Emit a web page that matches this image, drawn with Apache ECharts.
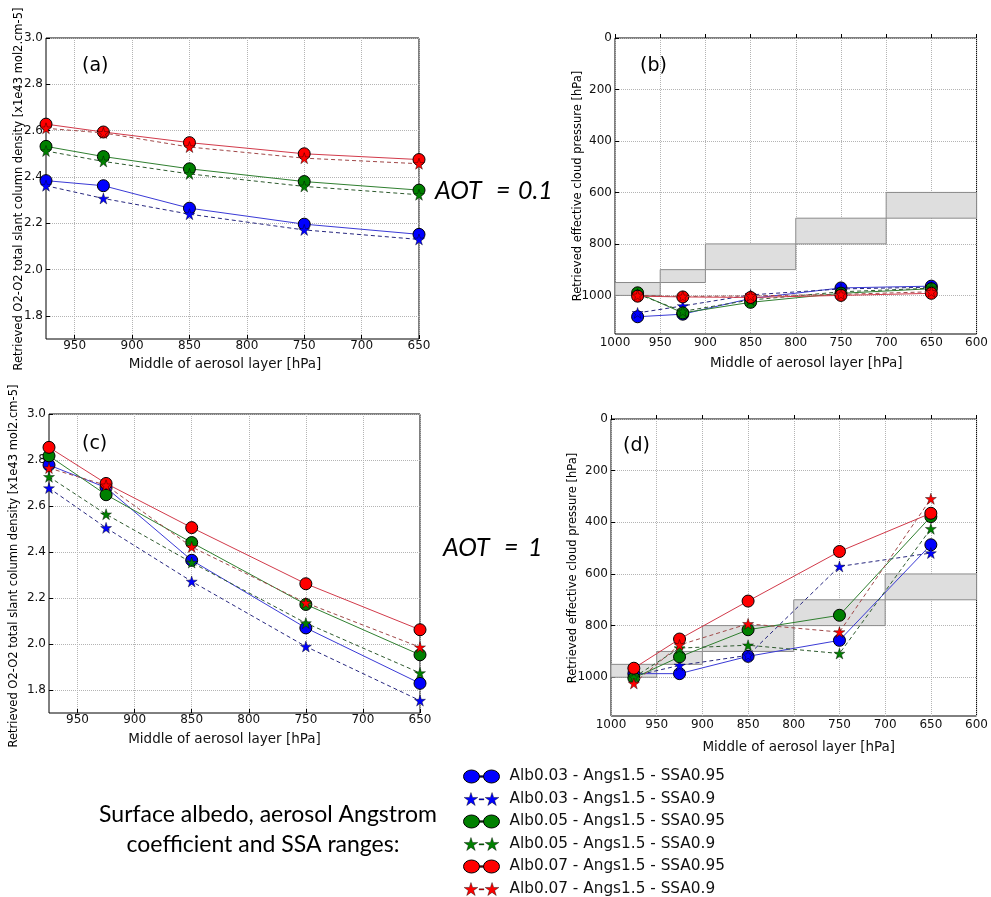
<!DOCTYPE html>
<html>
<head>
<meta charset="utf-8">
<script src="https://cdn.jsdelivr.net/npm/echarts@6/dist/echarts.min.js"></script>
<style>
  html, body { margin: 0; padding: 0; background: #fff; }
  #chart { width: 991px; height: 897px; }
</style>
</head>
<body>
<div id="chart"></div>
<script>
// Middle of each aerosol layer [hPa] and the layer bounds
const layerMid = [975, 925, 850, 750, 650];
const layerBottom = [1000, 950, 900, 800, 700];
const layerTop = [950, 900, 800, 700, 600];

// Tick labels
const scdTicks = [1.8, 2.0, 2.2, 2.4, 2.6, 2.8, 3.0];
const ecpTicks = [0, 200, 400, 600, 800, 1000];
const midTicks = [950, 900, 850, 800, 750, 700, 650];
const fullTicks = [1000, 950, 900, 850, 800, 750, 700, 650, 600];

// Legend entries
const seriesNames = [
  'Alb0.03 - Angs1.5 - SSA0.95',
  'Alb0.03 - Angs1.5 - SSA0.9',
  'Alb0.05 - Angs1.5 - SSA0.95',
  'Alb0.05 - Angs1.5 - SSA0.9',
  'Alb0.07 - Angs1.5 - SSA0.95',
  'Alb0.07 - Angs1.5 - SSA0.9'
];

// O2-O2 slant column density [x1e43 mol2.cm-5], AOT = 0.1
const scd01_a03_s95 = [2.384, 2.362, 2.265, 2.196, 2.152];
const scd01_a03_s90 = [2.362, 2.307, 2.239, 2.171, 2.130];
const scd01_a05_s95 = [2.532, 2.488, 2.435, 2.380, 2.343];
const scd01_a05_s90 = [2.512, 2.467, 2.413, 2.359, 2.323];
const scd01_a07_s95 = [2.628, 2.594, 2.548, 2.500, 2.475];
const scd01_a07_s90 = [2.610, 2.590, 2.529, 2.481, 2.457];

// Effective cloud pressure [hPa], AOT = 0.1
const ecp01_a03_s95 = [1083, 1073, 1012, 971, 964];
const ecp01_a03_s90 = [1068, 1041, 998, 975, 968];
const ecp01_a05_s95 = [990, 1068, 1027, 992, 974];
const ecp01_a05_s90 = [995, 1062, 1018, 986, 972];
const ecp01_a07_s95 = [1003, 1006, 1008, 1000, 992];
const ecp01_a07_s90 = [1000, 1004, 1002, 996, 986];

// O2-O2 slant column density [x1e43 mol2.cm-5], AOT = 1
const scd1_a03_s95 = [2.778, 2.680, 2.364, 2.070, 1.829];
const scd1_a03_s90 = [2.678, 2.505, 2.272, 1.989, 1.754];
const scd1_a05_s95 = [2.818, 2.649, 2.441, 2.172, 1.953];
const scd1_a05_s90 = [2.727, 2.564, 2.354, 2.091, 1.874];
const scd1_a07_s95 = [2.855, 2.698, 2.506, 2.262, 2.062];
const scd1_a07_s90 = [2.765, 2.690, 2.422, 2.179, 1.986];

// Effective cloud pressure [hPa], AOT = 1
const ecp1_a03_s95 = [986, 986, 919, 857, 487];
const ecp1_a03_s90 = [995, 954, 915, 571, 519];
const ecp1_a05_s95 = [1003, 921, 816, 760, 378];
const ecp1_a05_s90 = [1000, 887, 876, 908, 425];
const ecp1_a07_s95 = [965, 852, 705, 513, 365];
const ecp1_a07_s90 = [1024, 875, 793, 825, 309];

const panelValues = [
  [scd01_a03_s95, scd01_a03_s90, scd01_a05_s95, scd01_a05_s90, scd01_a07_s95, scd01_a07_s90],
  [ecp01_a03_s95, ecp01_a03_s90, ecp01_a05_s95, ecp01_a05_s90, ecp01_a07_s95, ecp01_a07_s90],
  [scd1_a03_s95, scd1_a03_s90, scd1_a05_s95, scd1_a05_s90, scd1_a07_s95, scd1_a07_s90],
  [ecp1_a03_s95, ecp1_a03_s90, ecp1_a05_s95, ecp1_a05_s90, ecp1_a07_s95, ecp1_a07_s90]
];

const markerColors = ['#0000ff', '#0000ff', '#008000', '#008000', '#ff0000', '#ff0000'];
const solidColors = ['#3a3ad6', '#3a3ad6', '#2f7f2f', '#2f7f2f', '#d23a4a', '#d23a4a'];
const dashColors = ['#27277f', '#27277f', '#2e5a2e', '#2e5a2e', '#a04848', '#a04848'];

function starPath(cx, cy, r) {
  let d = '';
  for (let i = 0; i < 10; i++) {
    const ang = -Math.PI / 2 + i * Math.PI / 5;
    const rr = i % 2 ? r * 0.382 : r;
    d += (i ? 'L' : 'M') + (cx + rr * Math.cos(ang)).toFixed(2) + ',' + (cy + rr * Math.sin(ang)).toFixed(2);
  }
  return d + 'Z';
}
const starSymbol = 'path://' + starPath(10, 10, 10);
const legendCircles = 'path://M0,7a8,6.5 0 1,0 16,0a8,6.5 0 1,0 -16,0Z M16,6.4h4v1.2h-4Z M20,7a8,6.5 0 1,0 16,0a8,6.5 0 1,0 -16,0Z';
const legendStars = 'path://' + starPath(7, 7.5, 7.5) + 'M15.5,6.6h5v1.1h-5Z' + starPath(29, 7.5, 7.5);

const FONT = 'DejaVu Sans';

// Plot rectangles of the four panels
const grids = [
  { left: 46, top: 38, width: 373, height: 301 },
  { left: 615, top: 38, width: 367, height: 296 },
  { left: 49, top: 414, width: 371, height: 299 },
  { left: 611, top: 419, width: 368, height: 297 }
].map(g => Object.assign({
  show: true, borderColor: '#000', borderWidth: 1, backgroundColor: 'transparent',
  containLabel: false
}, g));

const gridLine = { show: true, lineStyle: { color: '#b4b4b4', type: 'dotted', width: 1 } };
const tickStyle = { show: true, inside: true, length: 4, lineStyle: { color: '#000' } };
const labelStyle = { color: '#111', fontFamily: FONT, fontSize: 12 };
const xName = 'Middle of aerosol layer [hPa]';
const scdName = 'Retrieved O2-O2 total slant column density [x1e43 mol2.cm-5]';
const ecpName = 'Retrieved effective cloud pressure [hPa]';

function xAxisFor(idx, full, gap, pad, margin) {
  const ticks = full ? fullTicks : midTicks;
  return {
    type: 'value', gridIndex: idx, inverse: true,
    min: full ? 600 : 650, max: full ? 1000 : 975,
    axisLine: { show: false },
    axisTick: Object.assign({ customValues: ticks }, tickStyle),
    axisLabel: Object.assign({ customValues: ticks, margin: margin, formatter: v => String(v) }, labelStyle),
    splitLine: gridLine,
    name: xName, nameLocation: 'middle', nameGap: gap,
    nameTextStyle: { fontFamily: FONT, fontSize: 13.5, color: '#111', padding: pad }
  };
}
function yAxisFor(idx, scd) {
  const ticks = scd ? scdTicks : ecpTicks;
  return {
    type: 'value', gridIndex: idx, inverse: !scd,
    min: scd ? 1.7 : 0, max: scd ? 3.0 : 1150,
    axisLine: { show: false },
    axisTick: Object.assign({ customValues: ticks }, tickStyle),
    axisLabel: Object.assign({ customValues: ticks, margin: 3,
      formatter: v => scd ? Number(v).toFixed(1) : String(Math.round(v)) }, labelStyle),
    splitLine: gridLine
  };
}

const xAxes = [
  xAxisFor(0, false, 18, [0, 15, 0, 0], 1),
  xAxisFor(1, true, 22, [0, 0, 0, 21], 3),
  xAxisFor(2, false, 19, [0, 20, 0, 0], 1),
  xAxisFor(3, true, 24, [0, 0, 0, 10], 3)
];
const yAxes = [yAxisFor(0, true), yAxisFor(1, false), yAxisFor(2, true), yAxisFor(3, false)];

const series = [];

// Grey boxes: extent of each aerosol layer on the cloud-pressure panels
[1, 3].forEach(p => {
  series.push({
    type: 'custom', xAxisIndex: p, yAxisIndex: p, z: 1, silent: true,
    data: layerBottom.map((b, i) => [b, layerTop[i]]),
    encode: { x: [0, 1], y: [0, 1] },
    renderItem(params, api) {
      const b = api.value(0), t = api.value(1);
      const p0 = api.coord([b, b]);
      const p1 = api.coord([t, t]);
      return {
        type: 'rect',
        shape: {
          x: Math.min(p0[0], p1[0]), y: Math.min(p0[1], p1[1]),
          width: Math.abs(p1[0] - p0[0]), height: Math.abs(p1[1] - p0[1])
        },
        style: { fill: '#dedede', stroke: '#8a8a8a', lineWidth: 1 }
      };
    }
  });
});

panelValues.forEach((vals, p) => {
  vals.forEach((v, k) => {
    const isStar = k % 2 === 1;
    series.push({
      name: seriesNames[k],
      type: 'line', xAxisIndex: p, yAxisIndex: p,
      z: 3 + k,
      data: layerMid.map((x, i) => [x, v[i]]),
      symbol: isStar ? starSymbol : 'circle',
      symbolSize: isStar ? 11 : 12,
      showSymbol: true,
      lineStyle: {
        color: isStar ? dashColors[k] : solidColors[k],
        width: 1,
        type: isStar ? [4, 3] : 'solid'
      },
      itemStyle: {
        color: markerColors[k],
        borderColor: '#000',
        borderWidth: isStar ? 0.4 : 1
      },
      emphasis: { disabled: true }
    });
  });
});

function label(txt, x, y, font, align, rotation) {
  return {
    type: 'text', x: x, y: y, rotation: rotation || 0, silent: true,
    style: { text: txt, fill: '#000', font: font, align: align || 'left', verticalAlign: 'middle' }
  };
}
const panelFont = '19px "DejaVu Sans"';
const aotFont = 'italic 25px Lato';
const noteFont = '23px Lato';
const yNameFont = '11.5px "DejaVu Sans"';
const UP = Math.PI / 2;

const option = {
  animation: false,
  backgroundColor: '#fff',
  grid: grids,
  xAxis: xAxes,
  yAxis: yAxes,
  legend: {
    orient: 'vertical', left: 463, top: 769, padding: 0, height: 160,
    itemWidth: 36, itemHeight: 13, itemGap: 7.5,
    selectedMode: false,
    textStyle: { fontFamily: FONT, fontSize: 15.3, lineHeight: 14, color: '#111', padding: [0, 0, 0, 5] },
    data: seriesNames.map((n, k) => ({
      name: n,
      icon: k % 2 ? legendStars : legendCircles,
      itemStyle: { borderWidth: k % 2 ? 0.4 : 1, borderColor: '#000' }
    }))
  },
  graphic: [
    label(scdName, 19, 189, yNameFont, 'center', UP),
    label(ecpName, 578, 186, yNameFont, 'center', UP),
    label(scdName, 14, 566, yNameFont, 'center', UP),
    label(ecpName, 573, 568, yNameFont, 'center', UP),
    label('(a)', 82, 66, panelFont),
    label('(b)', 640, 66, panelFont),
    label('(c)', 82, 444, panelFont),
    label('(d)', 623, 446, panelFont),
    label('AOT', 435, 191, aotFont),
    label('=', 496, 191, aotFont),
    label('0.1', 518, 191, aotFont),
    label('AOT', 443, 548, aotFont),
    label('=', 504, 548, aotFont),
    label('1', 528, 548, aotFont),
    label('Surface albedo, aerosol Angstrom', 268, 815, noteFont, 'center'),
    label('coefficient and SSA ranges:', 263, 845, noteFont, 'center')
  ],
  series: series
};

const chart = echarts.init(document.getElementById('chart'), null, { renderer: 'canvas' });
chart.setOption(option);
</script>
</body>
</html>
